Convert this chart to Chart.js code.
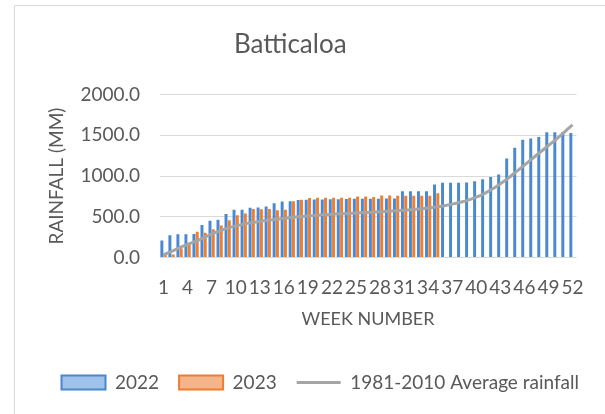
<!DOCTYPE html>
<html><head><meta charset="utf-8">
<script src="https://cdn.jsdelivr.net/npm/chart.js@4.4.0/dist/chart.umd.min.js"></script>
<style>html,body{margin:0;padding:0;background:#fff;}#wrap{width:605px;height:414px;position:relative;}</style>
</head><body><div id="wrap"><canvas id="c" width="605" height="414"></canvas></div>
<script>
const weeks = ['1','2','3','4','5','6','7','8','9','10','11','12','13','14','15','16','17','18','19','20','21','22','23','24','25','26','27','28','29','30','31','32','33','34','35','36','37','38','39','40','41','42','43','44','45','46','47','48','49','50','51','52'];
const rain2022 = [210,272,284,285,290,398,452,465,535,585,585,612,615,625,667,688,690,705,710,712,712,715,715,718,720,720,722,722,725,725,812,812,812,812,897,918,918,918,920,937,960,988,1020,1217,1347,1447,1460,1480,1537,1537,1540,1530];
const rain2023 = [57,38,114,180,316,304,346,392,458,520,540,594,592,596,580,585,692,710,730,733,733,733,733,735,748,750,742,760,760,758,758,758,758,758,790];
const avgRain = [30,75,120,160,200,240,290,325,360,388,410,428,443,457,470,481,491,502,510,518,525,531,536,541,546,551,556,561,567,573,580,588,597,607,620,636,655,678,705,740,785,840,905,975,1055,1135,1215,1295,1375,1455,1540,1630];
const xTickLabels = ['1','4','7','10','13','16','19','22','25','28','31','34','37','40','43','46','49','52'];
const yTicks = [0,500,1000,1500,2000];
const seriesNames = ['2022','2023','1981-2010 Average rainfall'];

const FONT = 'Lato, "Liberation Sans", sans-serif';
const TXT = '#595959';
Chart.defaults.font.family = FONT;
Chart.defaults.color = TXT;

const frame = {
  id: 'frame',
  beforeDraw(chart) {
    const ctx = chart.ctx;
    ctx.save();
    ctx.fillStyle = '#fff';
    ctx.fillRect(0, 0, chart.width, chart.height);
    ctx.strokeStyle = '#d9d9d9';
    ctx.lineWidth = 1;
    ctx.beginPath();
    ctx.moveTo(14.5, 414);
    ctx.lineTo(14.5, 5.5);
    ctx.lineTo(605, 5.5);
    ctx.stroke();
    ctx.restore();
  },
  afterLayout(chart) {
    if (chart.legend) { chart.legend.left += 25; chart.legend.right += 25; }
    if (chart.titleBlock) { chart.titleBlock.left -= 5; chart.titleBlock.right -= 5; }
  }
};

new Chart(document.getElementById('c'), {
  type: 'bar',
  data: {
    labels: weeks,
    datasets: [
      { label: seriesNames[0], data: rain2022, backgroundColor: '#4a89d2', borderWidth: 0, order: 2,
        categoryPercentage: 0.82, barPercentage: 0.9 },
      { label: seriesNames[1], data: rain2023, backgroundColor: '#ef7e2e', borderWidth: 0, order: 2,
        categoryPercentage: 0.82, barPercentage: 0.9 },
      { type: 'line', label: seriesNames[2], data: avgRain, borderColor: '#a5a5a5', backgroundColor: '#a5a5a5',
        borderWidth: 3, pointRadius: 0, tension: 0.4, fill: false, order: 1 }
    ]
  },
  options: {
    responsive: false,
    animation: false,
    devicePixelRatio: 1,
    layout: { padding: { left: 14, right: 28.5, top: 5, bottom: 12 } },
    plugins: {
      tooltip: { enabled: false },
      title: { display: true, text: 'Batticaloa', color: TXT,
        font: { size: 26, weight: 'normal', family: FONT, lineHeight: 1.2 },
        padding: { top: 24.4, bottom: 34 } },
      legend: {
        position: 'bottom',
        labels: {
          color: TXT, font: { size: 19, family: FONT },
          usePointStyle: true, pointStyleWidth: 44, boxHeight: 14, padding: 20,
          generateLabels(chart) {
            const fills = ['#9fc2ea', '#f6b48a', '#a5a5a5'];
            const strokes = ['#4a86c8', '#ed7d31', '#a5a5a5'];
            const styles = ['rect', 'rect', 'line'];
            return chart.data.datasets.map((ds, i) => ({
              text: ds.label, fillStyle: fills[i], strokeStyle: strokes[i],
              lineWidth: i === 2 ? 3 : 2, pointStyle: styles[i], hidden: false,
              datasetIndex: i, fontColor: TXT
            }));
          }
        }
      }
    },
    scales: {
      x: {
        grid: { display: false, drawTicks: false },
        border: { display: false },
        ticks: {
          autoSkip: false, maxRotation: 0, minRotation: 0, padding: 19,
          font: { size: 19, family: FONT }, color: TXT,
          callback(value, index) {
            const l = weeks[index];
            return xTickLabels.includes(l) ? l : '';
          }
        },
        title: { display: true, text: 'WEEK NUMBER', color: TXT,
          font: { size: 18, family: FONT }, padding: { top: 0, bottom: 23.5 } },
        afterFit(scale) { scale.height = 95.5; }
      },
      y: {
        min: 0, max: 2000,
        grid: { color: '#d9d9d9', lineWidth: 1, drawTicks: false },
        border: { display: false },
        afterBuildTicks(scale) { scale.ticks = yTicks.map(v => ({ value: v })); },
        ticks: {
          padding: 19.5, font: { size: 19, family: FONT }, color: TXT,
          callback(v) { return Number(v).toFixed(1); }
        },
        title: { display: true, text: 'RAINFALL (MM)', color: TXT,
          font: { size: 19, family: FONT }, padding: { top: 31, bottom: 0 } },
        afterFit(scale) { scale.width = 145.5; }
      }
    }
  },
  plugins: [frame]
});
</script>
</body></html>
